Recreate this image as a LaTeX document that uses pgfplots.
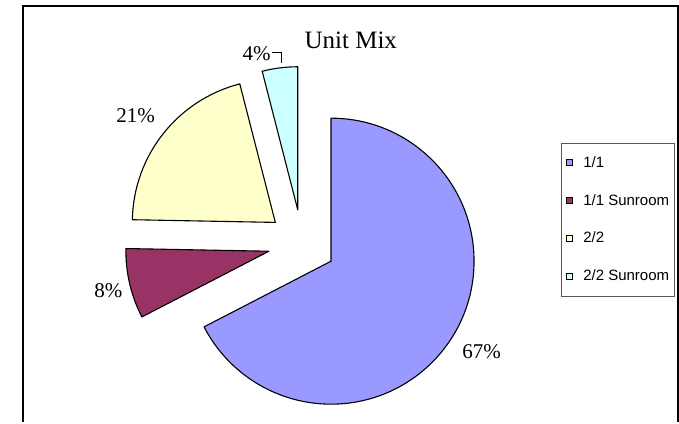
\documentclass[border=0pt]{standalone}
\usepackage{pgfplots}
\pgfplotsset{compat=1.18}
\usepackage{pgfplotstable}
\usepackage{fontspec}
\setmainfont{Liberation Serif}
\newfontfamily\arialfont{Liberation Sans}
\definecolor{pieA}{HTML}{9999FF}
\definecolor{pieB}{HTML}{993366}
\definecolor{pieC}{HTML}{FFFFCC}
\definecolor{pieD}{HTML}{CCFFFF}

% Unit mix shares (percent)
\pgfplotstableread{
slice value
0 67.4
1 7.9
2 20.7
3 4.0
}\piedata

\def\cx{302}\def\cy{178.5}\def\rr{143}\def\dd{34}

\pgfplotstablegetelem{0}{value}\of\piedata\pgfmathsetmacro{\vA}{\pgfplotsretval}
\pgfplotstablegetelem{1}{value}\of\piedata\pgfmathsetmacro{\vB}{\pgfplotsretval}
\pgfplotstablegetelem{2}{value}\of\piedata\pgfmathsetmacro{\vC}{\pgfplotsretval}
\pgfplotstablegetelem{3}{value}\of\piedata\pgfmathsetmacro{\vD}{\pgfplotsretval}
\pgfmathsetmacro{\aA}{90}
\pgfmathsetmacro{\bA}{\aA-3.6*\vA}
\pgfmathsetmacro{\aB}{\bA}
\pgfmathsetmacro{\bB}{\aB-3.6*\vB}
\pgfmathsetmacro{\aC}{\bB}
\pgfmathsetmacro{\bC}{\aC-3.6*\vC}
\pgfmathsetmacro{\aD}{\bC}
\pgfmathsetmacro{\bD}{\aD-3.6*\vD}
\pgfmathsetmacro{\pxA}{\cx+\dd*cos((\aA+\bA)/2)}\pgfmathsetmacro{\pyA}{\cy+\dd*sin((\aA+\bA)/2)}
\pgfmathsetmacro{\pxB}{\cx+\dd*cos((\aB+\bB)/2)}\pgfmathsetmacro{\pyB}{\cy+\dd*sin((\aB+\bB)/2)}
\pgfmathsetmacro{\pxC}{\cx+\dd*cos((\aC+\bC)/2)}\pgfmathsetmacro{\pyC}{\cy+\dd*sin((\aC+\bC)/2)}
\pgfmathsetmacro{\pxD}{\cx+\dd*cos((\aD+\bD)/2)}\pgfmathsetmacro{\pyD}{\cy+\dd*sin((\aD+\bD)/2)}

\begin{document}
\begin{tikzpicture}
\begin{axis}[
  scale only axis, width=679pt, height=422pt,
  xmin=0, xmax=679, ymin=0, ymax=422,
  hide axis, clip=false,
  legend image code/.code={\draw[#1, line width=0.8pt] (0pt,-2.4pt) rectangle (6pt,3.6pt);},
  legend cell align=left,
  legend style={at={(0.8258,0.6604)}, anchor=north west, draw=black!65, line width=0.9pt,
    inner xsep=5.3pt, inner ysep=12.5pt, row sep=23.8pt,
    font=\arialfont\fontsize{15}{17}\selectfont,
    nodes={inner sep=0pt, text height=11pt, text depth=3pt},
    /tikz/every odd column/.append style={column sep=10pt}},
]
\addlegendimage{fill=pieA, draw=black}\addlegendentry{1/1}
\addlegendimage{fill=pieB, draw=black}\addlegendentry{1/1 Sunroom}
\addlegendimage{fill=pieC, draw=black}\addlegendentry{2/2}
\addlegendimage{fill=pieD, draw=black}\addlegendentry{2/2 Sunroom}

\path (axis cs:0,0) rectangle (axis cs:679,422);

\filldraw[fill=pieA, draw=black, line width=1.1pt, line join=round]
  (axis cs:\pxA,\pyA) -- ++(\aA:\rr pt) arc[start angle=\aA, end angle=\bA, radius=\rr pt] -- cycle;
\filldraw[fill=pieB, draw=black, line width=1.1pt, line join=round]
  (axis cs:\pxB,\pyB) -- ++(\aB:\rr pt) arc[start angle=\aB, end angle=\bB, radius=\rr pt] -- cycle;
\filldraw[fill=pieC, draw=black, line width=1.1pt, line join=round]
  (axis cs:\pxC,\pyC) -- ++(\aC:\rr pt) arc[start angle=\aC, end angle=\bC, radius=\rr pt] -- cycle;
\filldraw[fill=pieD, draw=black, line width=1.1pt, line join=round]
  (axis cs:\pxD,\pyD) -- ++(\aD:\rr pt) arc[start angle=\aD, end angle=\bD, radius=\rr pt] -- cycle;

\node[font=\fontsize{21}{25}\selectfont, inner sep=0pt] at (axis cs:481.7,70.3) {67\%};
\node[font=\fontsize{21}{25}\selectfont, inner sep=0pt] at (axis cs:108.3,131.7) {8\%};
\node[font=\fontsize{21}{25}\selectfont, inner sep=0pt] at (axis cs:135.7,306.2) {21\%};
\node[font=\fontsize{21}{25}\selectfont, inner sep=0pt] at (axis cs:256.7,368.7) {4\%};
\draw[line width=0.8pt] (axis cs:271.7,369.7) -- (axis cs:281,369.7) -- (axis cs:281,358.7);

\node[font=\fontsize{25}{30}\selectfont, inner sep=0pt, anchor=base] at (axis cs:350.8,373) {Unit Mix};

\draw[line width=2pt] (axis cs:23,0) -- (axis cs:23,415.7) -- (axis cs:677.6,415.7) -- (axis cs:677.6,0);
\end{axis}
\end{tikzpicture}
\end{document}
